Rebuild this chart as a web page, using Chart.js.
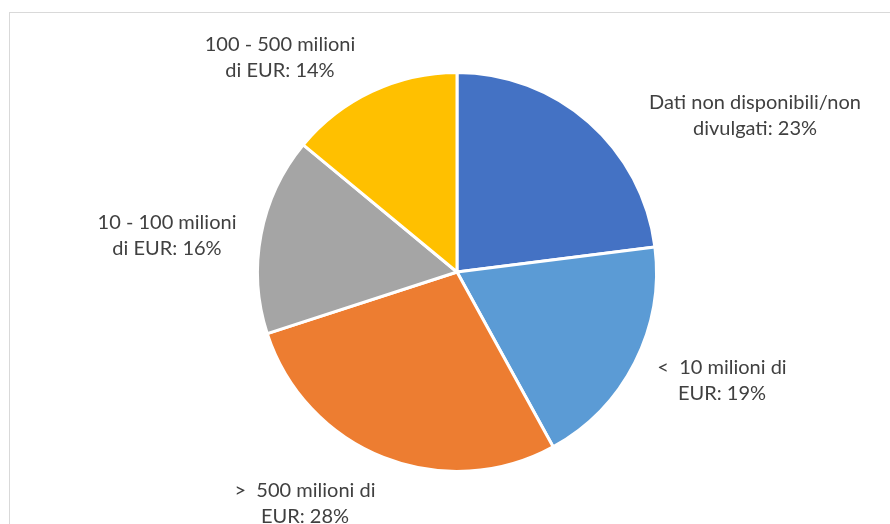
<!DOCTYPE html>
<html>
<head>
<meta charset="utf-8">
<script src="https://cdn.jsdelivr.net/npm/chart.js@4.4.1/dist/chart.umd.min.js"></script>
<style>
  html, body { margin: 0; padding: 0; background: #fff; }
  #wrap { position: relative; width: 890px; height: 524px; overflow: hidden; }
  #frame { position: absolute; left: 9px; top: 12px; width: 1000px; height: 1000px; border: 1px solid #d9d9d9; }
  #pie { position: absolute; left: 0; top: 0; }
</style>
</head>
<body>
<div id="wrap">
  <div id="frame"></div>
  <canvas id="pie" width="890" height="524"></canvas>
</div>
<script>
// Company revenue bands, clockwise from 12 o'clock
const categories = [
  'Dati non disponibili/non divulgati',
  '< 10 milioni di EUR',
  '> 500 milioni di EUR',
  '10 - 100 milioni di EUR',
  '100 - 500 milioni di EUR',
];
const shares = [23, 19, 28, 16, 14];
const colors = ['#4472C4', '#5B9BD5', '#ED7D31', '#A5A5A5', '#FFC000'];
// label text split into lines, value appended at draw time
const labelLines = [
  ['Dati non disponibili/non', 'divulgati: '],
  ['<  10 milioni di', 'EUR: '],
  ['>  500 milioni di', 'EUR: '],
  ['10 - 100 milioni', 'di EUR: '],
  ['100 - 500 milioni', 'di EUR: '],
];

// offsets of each label's first line from the pie centre
const labelOffsets = [[298, -169], [265, 96], [-152, 219], [-290, -49], [-177, -227]];

const outsideLabels = {
  id: 'outsideLabels',
  afterDraw(chart) {
    const { ctx } = chart;
    const arc = chart.getDatasetMeta(0).data[0];
    const cx = arc.x, cy = arc.y;
    ctx.save();
    ctx.font = '20px Lato, "Open Sans", sans-serif';
    ctx.fillStyle = '#404040';
    ctx.textAlign = 'center';
    ctx.textBaseline = 'middle';
    labelLines.forEach((lines, i) => {
      const [dx, dy] = labelOffsets[i];
      lines.forEach((t, j) => {
        const txt = j === lines.length - 1 ? t + shares[i] + '%' : t;
        ctx.fillText(txt, cx + dx, cy + dy + j * 26);
      });
    });
    ctx.restore();
  },
};

new Chart(document.getElementById('pie'), {
  type: 'pie',
  data: {
    labels: categories,
    datasets: [{
      data: shares,
      backgroundColor: colors,
      borderColor: '#ffffff',
      borderWidth: 3,
      hoverOffset: 0,
    }],
  },
  options: {
    responsive: false,
    animation: false,
    layout: { padding: { top: 71, bottom: 51, left: 24, right: 0 } },
    plugins: { legend: { display: false }, tooltip: { enabled: false } },
  },
  plugins: [outsideLabels],
});
</script>
</body>
</html>
